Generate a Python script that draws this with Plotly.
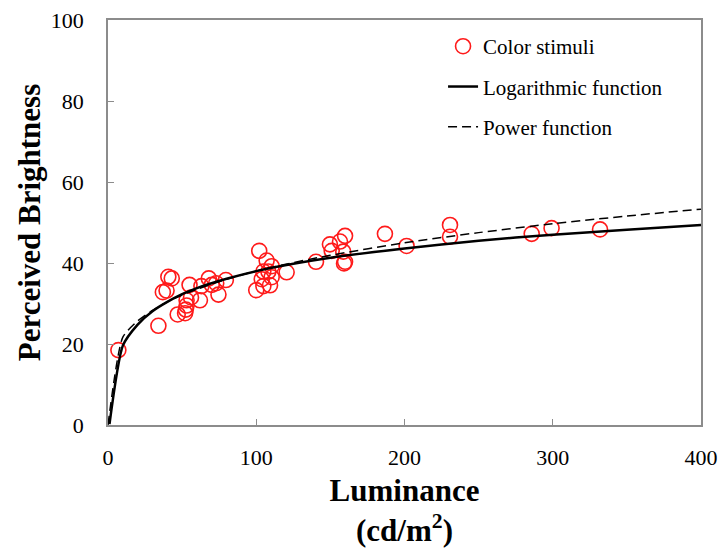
import plotly.graph_objects as go

# Color stimuli (luminance cd/m2, perceived brightness)
stim_lum = [7, 34, 37, 39.5, 40.7, 43, 47, 52, 52.5, 53, 53, 55, 56, 62, 63,
            68, 70, 73, 74.5, 79.5, 100, 102, 103.7, 104.8, 104.8, 107, 108.2,
            109.3, 110.4, 110.4, 120.5, 140.3, 149.7, 150.9, 156.5, 158.7,
            159.2, 159.9, 159.9, 186.8, 201.4, 230.7, 230.7, 285.8, 299.2, 331.9]
stim_bri = [18.5, 24.5, 32.8, 33.2, 36.6, 36.2, 27.3, 27.6, 28.5, 29.5, 30.8,
            34.6, 31.5, 30.8, 34.3, 36.2, 34.6, 35.0, 32.2, 35.8, 33.3, 43.0,
            36.0, 37.9, 34.3, 40.6, 37.9, 34.5, 39.2, 36.5, 37.7, 40.3, 44.6,
            43.0, 45.3, 42.8, 39.9, 46.7, 40.3, 47.2, 44.2, 49.4, 46.5, 47.2,
            48.6, 48.3]

# Fitted curves
log_x = [1, 10, 20, 30, 40, 50, 60, 80, 100, 125, 150, 200, 250, 300, 350, 400]
log_y = [0.2, 19.6, 24.8, 28.1, 30.4, 32.3, 33.8, 36.1, 38.0, 39.8, 41.3,
         43.6, 45.5, 47.0, 48.2, 49.4]
pow_x = [0, 10, 20, 30, 40, 50, 60, 80, 100, 125, 150, 200, 250, 300, 350, 400]
pow_y = [0, 21.7, 25.7, 28.3, 30.4, 32.1, 33.5, 36.0, 38.0, 40.1, 41.9,
         45.0, 47.5, 49.7, 51.6, 53.3]

x_ticks = [0, 100, 200, 300, 400]
y_ticks = [0, 20, 40, 60, 80, 100]

FONT = "Liberation Serif"

fig = go.Figure()
fig.add_trace(go.Scatter(
    x=stim_lum, y=stim_bri, mode="markers", name="Color stimuli",
    legendgroup="a",
    marker=dict(symbol="circle-open", size=15, color="#ff1a1a",
                line=dict(width=1.6, color="#ff1a1a"))))
fig.add_trace(go.Scatter(
    x=log_x, y=log_y, mode="lines", name="Logarithmic function",
    legendgroup="b", line=dict(color="black", width=2.5, shape="spline", smoothing=0.6)))
fig.add_trace(go.Scatter(
    x=pow_x, y=pow_y, mode="lines", name="Power function",
    legendgroup="c", line=dict(color="black", width=1.5, dash="9px,5px", shape="spline", smoothing=0.6)))

axis_common = dict(
    showline=True, linecolor="#8c8c8c", linewidth=1.5, mirror=True,
    ticks="inside", ticklen=6, tickcolor="#8c8c8c", tickwidth=1,
    showgrid=False, zeroline=False, automargin=False,
    tickfont=dict(family=FONT, size=22, color="black"),
)

fig.update_xaxes(range=[0, 400], tickvals=x_ticks, ticklabelstandoff=12,
                 title=dict(text="<b>Luminance<br>(cd/m<sup>2</sup>)</b>",
                            font=dict(family=FONT, size=31, color="black"),
                            standoff=12),
                 **axis_common)
fig.update_yaxes(range=[0, 100], tickvals=y_ticks, ticklabelstandoff=18,
                 title=dict(text="<b>Perceived Brightness</b>",
                            font=dict(family=FONT, size=31, color="black"),
                            standoff=1),
                 **axis_common)

fig.update_layout(
    width=722, height=548,
    margin=dict(l=108, r=21, t=20, b=123),
    plot_bgcolor="white", paper_bgcolor="white",
    font=dict(family=FONT, color="black"),
    legend=dict(x=0.565, y=0.985, xanchor="left", yanchor="top",
                bgcolor="rgba(0,0,0,0)", tracegroupgap=10,
                font=dict(family=FONT, size=21, color="black")),
)

fig.write_html("out.html", config={"displayModeBar": False},
               post_script="document.body.style.margin='0';document.body.style.overflow='hidden';")
